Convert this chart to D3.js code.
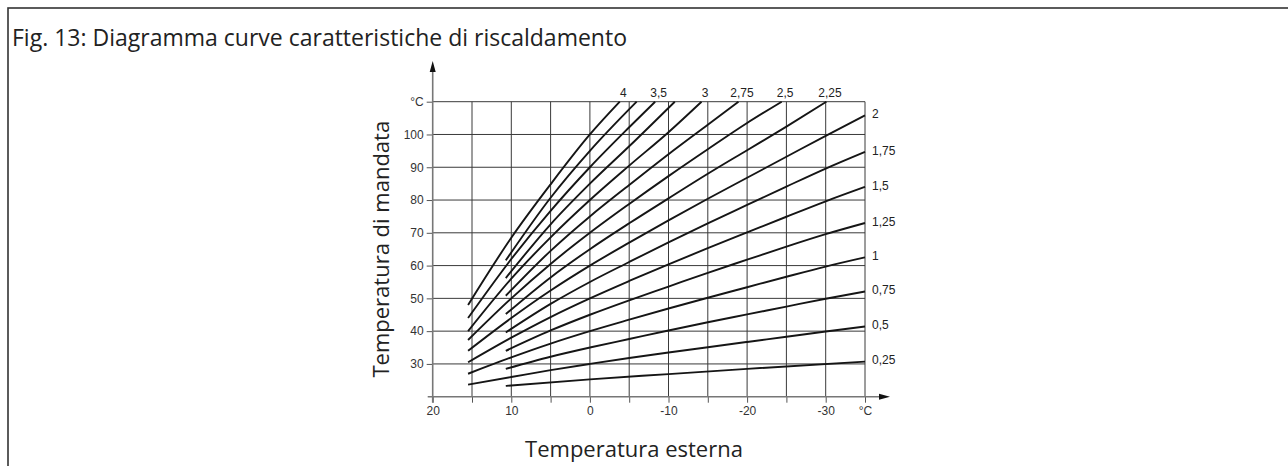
<!DOCTYPE html>
<html>
<head>
<meta charset="utf-8">
<script src="https://cdn.jsdelivr.net/npm/d3@7"></script>
<style>
  html, body { margin: 0; padding: 0; background: #fff; }
  svg { display: block; }
</style>
</head>
<body>
<svg id="chart" width="1288" height="466"></svg>
<script>
// ---------------- DATA ----------------
const titleText = "Fig. 13: Diagramma curve caratteristiche di riscaldamento";
const xTitle = "Temperatura esterna";
const yTitle = "Temperatura di mandata";

const xTicks = [20, 15, 10, 5, 0, -5, -10, -15, -20, -25, -30, -35];
const xTickLabels = ["20", "", "10", "", "0", "", "-10", "", "-20", "", "-30", "°C"];
const yTicks = [30, 40, 50, 60, 70, 80, 90, 100, 110];
const yTickLabels = ["30", "40", "50", "60", "70", "80", "90", "100", "°C"];

// curve slopes and their labels ("" = unlabelled curve)
const slopes      = [0.25, 0.5, 0.75, 1, 1.25, 1.5, 1.75, 2, 2.25, 2.5, 2.75, 3, 3.25, 3.5, 3.75, 4];
const slopeLabels = ["0,25","0,5","0,75","1","1,25","1,5","1,75","2","2,25","2,5","2,75","3","","3,5","","4"];

// [outdoor temperature °C, flow temperature °C]
const curve025 = [[10.7,23.3],[0,25.3],[-10,26.9],[-20,28.5],[-35,30.7]];
const curve050 = [[15.5,23.7],[10,26.0],[5,28.1],[0,30.0],[-5,31.8],[-10,33.5],[-15,35.1],[-20,36.7],[-25,38.3],[-30,39.9],[-35,41.4]];
const curve075 = [[10.7,28.5],[5,32.2],[0,35.0],[-5,37.6],[-10,40.2],[-15,42.7],[-20,45.1],[-25,47.5],[-30,49.9],[-35,52.1]];
const curve100 = [[15.5,27.0],[10,32.0],[5,36.2],[0,40.0],[-5,43.5],[-10,46.9],[-15,50.2],[-20,53.4],[-25,56.6],[-30,59.7],[-35,62.5]];
const curve125 = [[10.7,34.0],[5,40.2],[0,45.0],[-5,49.4],[-10,53.6],[-15,57.8],[-20,61.8],[-25,65.8],[-30,69.6],[-35,73.0]];
const curve150 = [[15.5,30.5],[10,38.0],[5,44.3],[0,50.0],[-5,55.3],[-10,60.4],[-15,65.3],[-20,70.1],[-25,74.9],[-30,79.6],[-35,84.0]];
const curve175 = [[10.7,39.6],[5,48.3],[0,55.0],[-5,61.1],[-10,67.1],[-15,72.9],[-20,78.5],[-25,84.1],[-30,89.6],[-35,94.7]];
const curve200 = [[15.5,34.0],[10,44.0],[5,52.4],[0,60.0],[-5,67.0],[-10,73.8],[-15,80.4],[-20,86.8],[-25,93.2],[-30,99.6],[-35,105.8]];
const curve225 = [[10.7,45.2],[5,56.4],[0,65.0],[-5,72.9],[-10,80.5],[-15,88.0],[-20,95.2],[-25,102.4],[-30.1,110]];
const curve250 = [[15.5,37.3],[10,50.0],[5,60.5],[0,70.0],[-5,78.8],[-10,87.3],[-15,95.5],[-20,103.5],[-24.4,110]];
const curve275 = [[10.7,50.8],[5,64.5],[0,75.0],[-5,84.6],[-10,94.0],[-15,103.0],[-18.9,110]];
const curve300 = [[15.5,40.0],[10,56.0],[5,68.6],[0,80.0],[-5,90.5],[-10,100.7],[-14.2,110]];
const curve325 = [[10.7,56.2],[5,72.6],[0,85.0],[-5,96.4],[-10.8,110]];
const curve350 = [[15.5,44.0],[10,62.0],[5,76.7],[0,90.0],[-5,102.2],[-8.3,110]];
const curve375 = [[10.7,61.6],[5,80.7],[0,95.0],[-5.95,110]];
const curve400 = [[15.5,48.0],[10,68.5],[5,84.8],[0,100.0],[-3.8,110]];

const curves = [curve025, curve050, curve075, curve100, curve125, curve150, curve175, curve200,
                curve225, curve250, curve275, curve300, curve325, curve350, curve375, curve400];

// ---------------- DRAWING ----------------
const svg = d3.select("#chart");
const tickFont = "'Liberation Sans', Arial, Helvetica, sans-serif";
const titleFont = "'Open Sans', 'Noto Sans', sans-serif";

const x = d3.scaleLinear().domain([20, -35]).range([432.7, 865]);
const y = d3.scaleLinear().domain([20, 110]).range([396.7, 101.7]);

// frame
svg.append("rect")
  .attr("x", 8).attr("y", 8).attr("width", 1300).attr("height", 500)
  .attr("fill", "none").attr("stroke", "#333").attr("stroke-width", 1.6);

// title
svg.append("text")
  .attr("x", 12).attr("y", 46)
  .attr("font-family", titleFont).attr("font-size", 23).attr("fill", "#222")
  .text(titleText);

// grid
const grid = svg.append("g");
grid.selectAll("line.v").data(xTicks.filter(d => d !== 20)).join("line")
  .attr("x1", d => x(d)).attr("x2", d => x(d))
  .attr("y1", y(20)).attr("y2", y(110))
  .attr("stroke", "#3a3a3a").attr("stroke-width", 1);
grid.selectAll("line.h").data(yTicks).join("line")
  .attr("x1", x(20)).attr("x2", x(-35))
  .attr("y1", d => y(d)).attr("y2", d => y(d))
  .attr("stroke", "#3a3a3a").attr("stroke-width", 1);

// axes (ticks + labels via d3 axes)
const yAxis = d3.axisLeft(y).tickValues(yTicks).tickSize(6).tickPadding(3)
  .tickFormat((d, i) => yTickLabels[i]);
const gy = svg.append("g").attr("transform", `translate(${x(20)},0)`).call(yAxis);
gy.select(".domain").remove();
gy.selectAll(".tick line").attr("stroke", "#555").attr("stroke-width", 1);
gy.selectAll(".tick text").attr("font-family", tickFont).attr("font-size", 12).attr("fill", "#333");

const xAxis = d3.axisBottom(x).tickValues(xTicks).tickSize(6).tickPadding(4)
  .tickFormat((d, i) => xTickLabels[i]);
const gx = svg.append("g").attr("transform", `translate(0,${y(20)})`).call(xAxis);
gx.select(".domain").remove();
gx.selectAll(".tick line").attr("stroke", "#555").attr("stroke-width", 1);
gx.selectAll(".tick text").attr("font-family", tickFont).attr("font-size", 12).attr("fill", "#333");

// axis lines with arrows
svg.append("line").attr("x1", x(20)).attr("x2", x(20)).attr("y1", y(20) + 6).attr("y2", 70)
  .attr("stroke", "#777").attr("stroke-width", 1.6);
svg.append("path")
  .attr("d", `M${x(20)},61 L${x(20) - 3},72 L${x(20) + 3},72 Z`).attr("fill", "#111");
svg.append("line").attr("x1", x(20) - 5).attr("x2", 881).attr("y1", y(20)).attr("y2", y(20))
  .attr("stroke", "#777").attr("stroke-width", 1.6);
svg.append("path")
  .attr("d", `M890,${y(20)} L879,${y(20) - 3} L879,${y(20) + 3} Z`).attr("fill", "#111");

// curves
const line = d3.line().x(d => x(d[0])).y(d => y(d[1])).curve(d3.curveMonotoneX);
svg.append("g").selectAll("path").data(curves).join("path")
  .attr("d", line)
  .attr("fill", "none").attr("stroke", "#151515").attr("stroke-width", 1.9)
  .attr("stroke-linecap", "butt");

// curve labels
const labG = svg.append("g").attr("font-family", tickFont).attr("font-size", 12).attr("fill", "#222");
curves.forEach((c, i) => {
  const lab = slopeLabels[i];
  if (!lab) return;
  const end = c[c.length - 1];
  if (end[1] >= 110) {
    labG.append("text").attr("x", x(end[0]) + 3.5).attr("y", y(110) - 5)
      .attr("text-anchor", "middle").text(lab);
  } else {
    labG.append("text").attr("x", x(end[0]) + 7).attr("y", y(end[1]) - 1.5)
      .attr("dy", "0.35em").attr("text-anchor", "start").text(lab);
  }
});

// axis titles
svg.append("text")
  .attr("x", 634).attr("y", 457)
  .attr("text-anchor", "middle")
  .attr("font-family", titleFont).attr("font-size", 22).attr("fill", "#222")
  .text(xTitle);
svg.append("text")
  .attr("transform", `translate(389,${(y(20) + y(110)) / 2}) rotate(-90)`)
  .attr("text-anchor", "middle")
  .attr("font-family", titleFont).attr("font-size", 22).attr("fill", "#222")
  .text(yTitle);
</script>
</body>
</html>
